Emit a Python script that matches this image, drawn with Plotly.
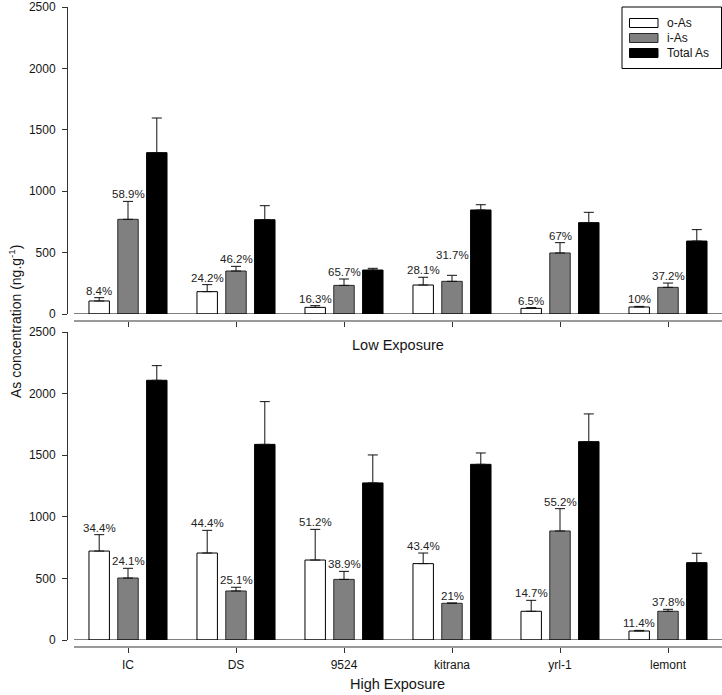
import plotly.graph_objects as go

categories = ["IC", "DS", "9524", "kitrana", "yrl-1", "lemont"]
series_names = ["o-As", "i-As", "Total As"]

# Top panel (Low Exposure)
low_o = [106, 182, 54, 236, 46, 57]
low_o_err = [27, 57, 14, 63, 6, 5]
low_i = [771, 350, 233, 266, 497, 217]
low_i_err = [146, 38, 52, 49, 84, 35]
low_t = [1314, 768, 358, 847, 744, 594]
low_t_err = [282, 114, 14, 43, 84, 93]
low_o_pct = ["8.4%", "24.2%", "16.3%", "28.1%", "6.5%", "10%"]
low_i_pct = ["58.9%", "46.2%", "65.7%", "31.7%", "67%", "37.2%"]

# Bottom panel (High Exposure)
high_o = [722, 706, 649, 620, 233, 73]
high_o_err = [133, 184, 249, 86, 89, 5]
high_i = [503, 398, 492, 298, 885, 233]
high_i_err = [79, 30, 65, 2, 181, 16]
high_t = [2108, 1588, 1275, 1426, 1610, 628]
high_t_err = [119, 347, 227, 92, 225, 76]
high_o_pct = ["34.4%", "44.4%", "51.2%", "43.4%", "14.7%", "11.4%"]
high_i_pct = ["24.1%", "25.1%", "38.9%", "21%", "55.2%", "37.8%"]

y_ticks = [0, 500, 1000, 1500, 2000, 2500]

# styles
W, H = 722, 695
FONT = "Liberation Sans, Arial, sans-serif"
TXT = "#151515"
fills = ["white", "#808080", "black"]
outlines = ["black", "#2a2a2a", "black"]
BARGAP = 0.2
BARGROUPGAP = 0.29
x_left_px = 74
low_lift = [0, 0, 0, 13, 0, 0]

def px(x):
    return x / W

def py(y):
    return 1 - y / H

fig = go.Figure()

panels = [
    ("x", "y", [low_o, low_i, low_t], [low_o_err, low_i_err, low_t_err]),
    ("x2", "y2", [high_o, high_i, high_t], [high_o_err, high_i_err, high_t_err]),
]
for xa, ya, vals, errs in panels:
    for k in range(3):
        fig.add_trace(go.Bar(
            x=categories, y=vals[k], name=series_names[k],
            xaxis=xa, yaxis=ya, showlegend=False,
            marker=dict(color=fills[k], line=dict(color=outlines[k], width=1)),
            error_y=dict(type="data", array=errs[k], arrayminus=[0] * len(errs[k]),
                         symmetric=False, color="#111", thickness=1, width=5),
        ))

px_per_cat = (W - x_left_px) / len(categories)
slot_px = (1 - BARGAP) / 3 * px_per_cat

annotations = []
def add_labels(xref, yref, vals, errs, texts, shift, lifts=None):
    # x given as category serial index (category names like "9524" would be read as numbers)
    for j in range(len(categories)):
        annotations.append(dict(
            x=j, y=vals[j] + errs[j], xref=xref, yref=yref, text=texts[j],
            showarrow=False, yanchor="bottom", xanchor="center",
            xshift=shift, yshift=(lifts[j] if lifts else 0) - 1,
            font=dict(family=FONT, size=11.5, color="#222"),
        ))

add_labels("x", "y", low_o, low_o_err, low_o_pct, -slot_px)
add_labels("x", "y", low_i, low_i_err, low_i_pct, 0, low_lift)
add_labels("x2", "y2", high_o, high_o_err, high_o_pct, -slot_px)
add_labels("x2", "y2", high_i, high_i_err, high_i_pct, 0)

annotations += [
    dict(x=px(15), y=py(322), xref="paper", yref="paper", xanchor="center", yanchor="middle",
         text="As concentration (ng.g<sup>-1</sup>)", textangle=-90, showarrow=False,
         font=dict(family=FONT, size=14, color=TXT)),
    dict(x=px(398), y=py(345), xref="paper", yref="paper", xanchor="center", yanchor="middle",
         text="Low Exposure", showarrow=False, font=dict(family=FONT, size=14.5, color=TXT)),
    dict(x=px(398), y=py(684), xref="paper", yref="paper", xanchor="center", yanchor="middle",
         text="High Exposure", showarrow=False, font=dict(family=FONT, size=14.5, color=TXT)),
]

# Legend drawn as box + swatches + labels
shapes = [
    dict(type="line", xref="x domain", yref="y", x0=0, x1=1, y0=0, y1=0,
         line=dict(color="black", width=1)),
    dict(type="line", xref="x2 domain", yref="y2", x0=0, x1=1, y0=0, y1=0,
         line=dict(color="black", width=1)),
    dict(type="rect", xref="paper", yref="paper", x0=px(622), x1=px(721.5), y0=py(68.5), y1=py(7),
         line=dict(color="black", width=1), fillcolor="white", layer="above"),
]
leg_y = [23, 38, 53]
for k, name in enumerate(series_names):
    shapes.append(dict(type="rect", xref="paper", yref="paper",
                       x0=px(629.5), x1=px(658), y0=py(leg_y[k] + 4.5), y1=py(leg_y[k] - 4.5),
                       line=dict(color=outlines[k], width=1), fillcolor=fills[k], layer="above"))
    annotations.append(dict(x=px(665), y=py(leg_y[k]), xref="paper", yref="paper",
                            xanchor="left", yanchor="middle", text=name, showarrow=False,
                            font=dict(family=FONT, size=12, color=TXT)))

xcommon = dict(type="category", range=[-0.5, len(categories) - 0.5],
               domain=[x_left_px / W, 1], anchor="free",
               showline=True, linecolor="#9a9a9a", linewidth=2,
               ticks="outside", ticklen=5, tickcolor="#333", tickwidth=1,
               showgrid=False, zeroline=False, ticklabelstandoff=2,
               tickfont=dict(family=FONT, size=12, color=TXT))
ycommon = dict(range=[0, 2500], tickvals=y_ticks, anchor="free", position=67 / W,
               showline=True, linecolor="#333", linewidth=1,
               ticks="outside", ticklen=5, tickcolor="#333",
               showgrid=False, zeroline=False, ticklabelstandoff=4,
               tickfont=dict(family=FONT, size=12, color=TXT))

fig.update_layout(
    width=W, height=H, autosize=False, margin=dict(l=0, r=0, t=0, b=0, autoexpand=False),
    plot_bgcolor="white", paper_bgcolor="white", showlegend=False,
    barmode="group", bargap=BARGAP, bargroupgap=BARGROUPGAP,
    xaxis=dict(xcommon, position=py(321), showticklabels=False),
    yaxis=dict(ycommon, domain=[py(314), py(7)]),
    xaxis2=dict(xcommon, position=py(647), showticklabels=True),
    yaxis2=dict(ycommon, domain=[py(640), py(332)]),
    annotations=annotations,
    shapes=shapes,
    font=dict(family=FONT),
)

fig.write_html(
    "out.html",
    config={"responsive": False, "displayModeBar": False},
    post_script="document.body.style.margin='0';document.body.style.overflow='hidden';",
)
